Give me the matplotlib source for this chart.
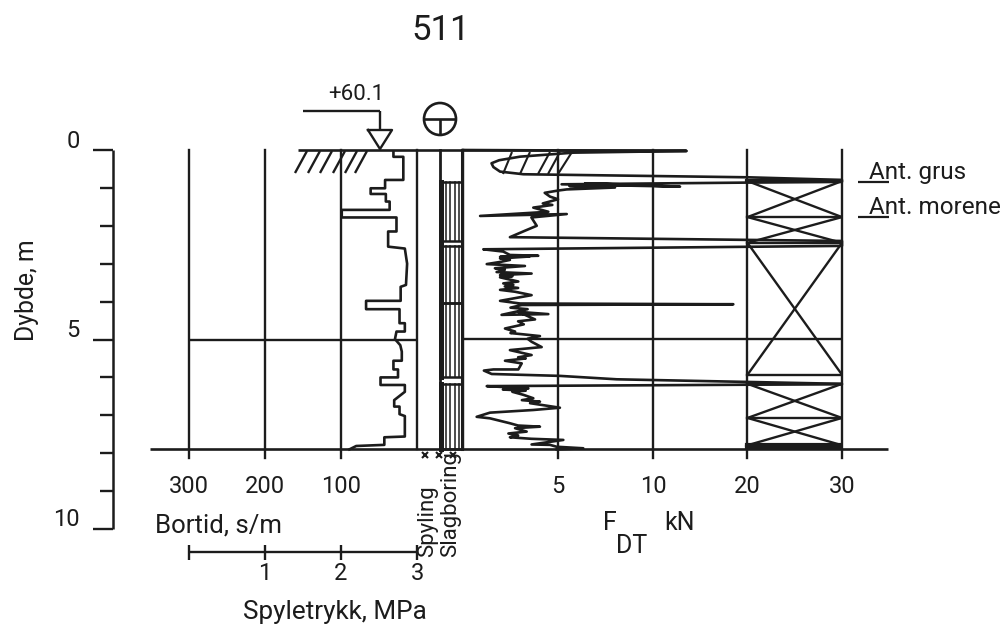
import numpy as np
import matplotlib
matplotlib.use("Agg")
import matplotlib.pyplot as plt

W, H = 1008, 627
plt.rcParams["font.family"] = ["Roboto", "DejaVu Sans"]
INK = "#1c1c1c"

# ---- data ----
depth_major = [0, 5, 10]
depth_minor = [1, 2, 3, 4, 6, 7, 8, 9]
bortid_ticks = [300, 200, 100]
bottom_depth = 7.9

bortid_depth = [0.02, 0.18, 0.18, 0.79, 0.79, 1.01, 1.01, 1.16, 1.16, 1.36, 1.36, 1.58, 1.58, 1.78, 1.78,
                2.15, 2.15, 2.55, 2.60, 3.0, 3.56, 3.61, 3.98, 3.98, 4.2, 4.2, 4.57, 4.57, 4.79, 4.79, 4.99,
                5.15, 5.32, 5.56, 5.56, 5.79, 5.79, 6.0, 6.0, 6.2, 6.2, 6.38, 6.6, 6.77, 6.77, 6.97, 7.02,
                7.56, 7.58, 7.78, 7.81, 7.9]
bortid_vals = [31, 31, 18, 18, 42, 42, 61, 61, 41, 41, 36, 36, 99, 99, 27,
               27, 38, 38, 16, 13, 14.5, 21.5, 21.5, 67, 67, 23, 23, 16, 16, 27, 29,
               22, 20, 20, 31, 31, 25, 25, 48, 48, 16, 16, 30, 30, 23, 23, 16,
               16, 43, 43, 80, 89]

fdt_vals = [0, 13.56, 5.81, 3.0, 1.9, 1.5, 1.6, 1.95, 3.18, 20, 30, 30, 20, 5.19, 12.86, 6.42, 10.0, 5.6, 8.0, 5.46, 5.0, 4.3, 4.58,
            5.0, 4.2, 4.7, 3.7, 4.49, 0.9, 5.46, 3.6, 3.88, 3.26, 2.47, 30, 30, 1.07,
            2.12, 2.47, 3.96, 1.95, 3.5, 1.95, 2.47, 2.0, 1.25, 3.26, 1.68, 2.2, 1.77, 3.61, 1.95, 2.6, 1.95,
            2.91, 2.12, 2.65, 2.2, 2.9, 1.95, 2.74, 3.61, 1.95, 3.0, 18.5, 3.09,
            2.5, 3.4, 2.03, 4.49, 2.91, 3.79, 2.9, 3.2, 2.21, 2.74, 2.5, 3.1, 4.05, 3.4, 3.61, 4.14, 3.3, 2.47, 3.61, 2.9, 3.3, 2.21,
            3.09, 2.91, 1.6, 1.1, 1.51, 5.1, 8.09, 30, 30, 1.25, 3.44, 2.1, 3.3, 2.6, 3.18, 3.7, 3.1, 4.05, 3.53, 5.1, 3.7, 1.42, 0.72,
            1.42, 2.47, 2.9, 4.05, 2.74, 3.35, 2.39, 2.9, 2.47, 3.6, 5.28, 3.61, 4.58, 4.93, 6.33, 4.93]
fdt_depth = [0.0, 0.026, 0.07, 0.176, 0.27, 0.35, 0.45, 0.57, 0.64, 0.72, 0.79, 0.84, 0.86, 0.905, 0.967, 0.88, 0.93, 0.95, 0.99, 1.04, 1.07, 1.13, 1.23,
             1.30, 1.41, 1.45, 1.52, 1.63, 1.74, 1.69, 1.78, 2.0, 2.13, 2.3, 2.4, 2.53, 2.62,
             2.68, 2.77, 2.79, 2.82, 2.81, 2.86, 2.9, 2.95, 3.01, 3.06, 3.12, 3.16, 3.22, 3.26, 3.3, 3.33, 3.36,
             3.47, 3.52, 3.56, 3.6, 3.64, 3.69, 3.74, 3.83, 3.98, 4.05, 4.07, 4.09,
             4.16, 4.2, 4.35, 4.33, 4.27, 4.47, 4.52, 4.6, 4.71, 4.79, 4.83, 4.86, 4.91, 4.98, 5.06, 5.2, 5.24, 5.28, 5.41, 5.47, 5.5, 5.56,
             5.63, 5.79, 5.79, 5.82, 5.91, 5.96, 6.05, 6.17, 6.18, 6.23, 6.29, 6.32, 6.35, 6.38, 6.46, 6.55, 6.6, 6.64, 6.68, 6.8, 6.86, 6.93, 7.04,
             7.08, 7.21, 7.27, 7.3, 7.34, 7.43, 7.48, 7.53, 7.58, 7.62, 7.65, 7.77, 7.78, 7.83, 7.87, 7.9]

f_ticks = [5, 10, 20, 30]
soil_breaks = [0.82, 1.77, 2.45, 5.93, 6.17, 7.07, 7.79]   # depths bounding the crossed layers
soil_heavy = [0.82, 7.79, 7.84]
soil_crossed = [(0, 1), (1, 2), (2, 3), (4, 5), (5, 6)]
percussion_intervals = [(0.84, 2.40), (2.53, 4.03), (4.05, 5.99), (6.17, 7.9)]
pressure_ticks = [1, 2, 3]


def box(x0, x1, y0, y1, **kw):
    return fig.add_axes([x0 / W, 1 - y1 / H, (x1 - x0) / W, (y1 - y0) / H], **kw)


fig = plt.figure(figsize=(W / 100, H / 100), dpi=100, facecolor="white")

ax0 = fig.add_axes([0, 0, 1, 1])
ax0.set_xlim(0, W)
ax0.set_ylim(H, 0)
ax0.axis("off")

Y0, Y10 = 150, 529
Yb = Y0 + (Y10 - Y0) * bottom_depth / 10
LW = 1.7


def line(xs, ys, lw=LW, ax=ax0, **kw):
    ax.plot(xs, ys, color=INK, lw=lw, solid_capstyle="butt", clip_on=False, **kw)


def dy(d):
    return Y0 + (Y10 - Y0) * d / 10


TICK = 17

# depth axis
line([113, 113], [Y0, Y10], lw=1.8)
for d in depth_major:
    line([93, 113], [dy(d), dy(d)])
    ax0.text(80, dy(d) - 9, str(d), ha="right", va="center", fontsize=TICK, color=INK)
for d in depth_minor:
    line([100, 113], [dy(d), dy(d)])
ax0.text(27, 290, "Dybde, m", rotation=90, ha="center", va="center", fontsize=17.8, color=INK)

# bortid panel
axb = box(189, 417, Y0, Y10)
axb.set_xlim(300, 0)
axb.set_ylim(10, 0)
axb.axis("off")
axb.patch.set_alpha(0)
for v in bortid_ticks + [0]:
    axb.plot([v, v], [0, bottom_depth + (0.22 if v else 0)], color=INK, lw=LW, clip_on=False)
axb.plot(bortid_vals, bortid_depth, color=INK, lw=1.9, solid_joinstyle="round")
for v in bortid_ticks:
    axb.text(v, 8.87, str(v), ha="center", va="center", fontsize=TICK, color=INK)
axb.plot([300, 0], [5, 5], color=INK, lw=LW)

# frame lines
line([298, 686], [Y0, Y0], lw=1.9)
line([150, 888], [Yb, Yb], lw=1.9)
line([462, 842], [339, 339])

# F_DT panel with its broken scale
F_KNOTS = [0, 10, 30]
F_PIX = [463, 653, 842]
axf = box(463, 842, Y0, Y10)
axf.set_xscale("function", functions=(lambda v: np.interp(v, F_KNOTS, F_PIX),
                                      lambda p: np.interp(p, F_PIX, F_KNOTS)))
axf.set_xlim(0, 30)
axf.set_ylim(10, 0)
axf.axis("off")
axf.patch.set_alpha(0)
for v in [0] + f_ticks:
    axf.plot([v, v], [0, bottom_depth + (0.22 if v else 0)], color=INK, lw=LW, clip_on=False)
axf.plot(fdt_vals, fdt_depth, color=INK, lw=1.9, solid_joinstyle="round", clip_on=False)
for v in f_ticks:
    axf.text(v, 8.87, str(v), ha="center", va="center", fontsize=TICK, color=INK)
for d in soil_breaks:
    axf.plot([20, 30], [d, d], color=INK, lw=LW)
for d in soil_heavy:
    axf.plot([20, 30], [d, d], color=INK, lw=3)
for a, b in soil_crossed:
    axf.plot([20, 30], [soil_breaks[a], soil_breaks[b]], color=INK, lw=1.7)
    axf.plot([20, 30], [soil_breaks[b], soil_breaks[a]], color=INK, lw=1.7)

# drilling column
axc = box(440, 462, Y0, Y10)
axc.set_xlim(0, 1)
axc.set_ylim(10, 0)
axc.axis("off")
axc.patch.set_alpha(0)
axc.plot([0, 0], [0, bottom_depth], color=INK, lw=2, clip_on=False)
axc.plot([1, 1], [0, bottom_depth], color=INK, lw=2.2, clip_on=False)
for a, b in percussion_intervals:
    axc.plot([0.03, 0.03], [a, b], color=INK, lw=3.6, clip_on=False)
    for x in (0.28, 0.47, 0.66, 0.85):
        axc.plot([x, x], [a, b], color=INK, lw=1.1)
    axc.plot([0, 1], [a, a], color=INK, lw=1.8)
    axc.plot([0, 1], [b, b], color=INK, lw=1.8)

# ground hatching
for xt in [307, 320, 332, 345, 357, 367]:
    line([xt, xt - 12], [151, 173], lw=1.7)
for xt, xb in [(512, 503), (530, 520), (550, 538), (560, 548), (572, 558)]:
    line([xt, xb], [152, 174], lw=1.5)

# level marker
line([303, 380], [111, 111])
line([380, 380], [111, 130])
ax0.plot([368, 392, 380, 368], [130, 130, 149, 130], color=INK, lw=1.7)
ax0.text(356, 95, "+60.1", ha="center", va="center", fontsize=16, color=INK)
ax0.add_patch(plt.Circle((440, 119), 16, fill=False, ec=INK, lw=1.9))
line([424, 456], [119, 119], lw=1.9)
line([440, 440], [119, 135], lw=1.9)

# page number
ax0.text(441, 31, "511", ha="center", va="center", fontsize=25, color=INK)

# layer labels
ax0.text(869, 172, "Ant. grus", ha="left", va="center", fontsize=17.5, color=INK)
ax0.text(869, 207, "Ant. morene", ha="left", va="center", fontsize=17.5, color=INK)
line([858, 889], [182, 182], lw=1.6)
line([858, 889], [217, 217], lw=1.6)

# titles and pressure scale
ax0.text(155, 525, "Bortid, s/m", ha="left", va="center", fontsize=18.5, color=INK)
PRESS = dict(zip([0] + pressure_ticks, [189, 265, 341, 417]))
line([189, 417], [552, 552])
for p, x in PRESS.items():
    line([x, x], [545, 560], lw=1.7)
    if p:
        ax0.text(x, 573, str(p), ha="center", va="center", fontsize=TICK, color=INK)
ax0.text(335, 612, "Spyletrykk, MPa", ha="center", va="center", fontsize=18.8, color=INK)
ax0.text(428, 557, "Spyling", rotation=90, ha="center", va="bottom", fontsize=16, color=INK)
ax0.text(451, 557, "Slagboring", rotation=90, ha="center", va="bottom", fontsize=16, color=INK)
for x in [425, 439, 453]:
    ax0.plot([x], [455], marker="x", ms=5, mew=1.5, color=INK)
ax0.text(610, 523, "F", ha="center", va="center", fontsize=18, color=INK)
ax0.text(632, 546, "DT", ha="center", va="center", fontsize=18, color=INK)
ax0.text(680, 523, "kN", ha="center", va="center", fontsize=18, color=INK)

fig.savefig("out.png", dpi=100, facecolor="white")
